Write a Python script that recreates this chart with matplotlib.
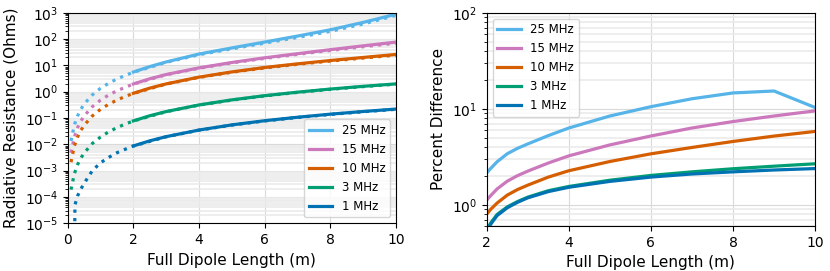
import matplotlib
matplotlib.use('Agg')
import matplotlib.pyplot as plt
from matplotlib.ticker import LogLocator, NullFormatter

# colours (seaborn colorblind)
colors = {'25 MHz': '#56b4e9', '15 MHz': '#cc78bc', '10 MHz': '#d55e00',
          '3 MHz': '#029e73', '1 MHz': '#0173b2'}
labels = ['25 MHz', '15 MHz', '10 MHz', '3 MHz', '1 MHz']

# simulated resistance, 2..10 m
x_sim = [2, 2.5, 3, 4, 5, 6, 7, 8, 9, 10]
r_sim = {
    '25 MHz': [5.6, 9.0, 13.5, 27, 46, 77, 130, 225, 430, 880],
    '15 MHz': [1.97, 3.1, 4.5, 8.05, 12.9, 19.4, 27.8, 39.5, 55.3, 76.6],
    '10 MHz': [0.87, 1.37, 1.98, 3.58, 5.65, 8.3, 11.45, 15.3, 20.0, 26.0],
    '3 MHz': [0.078, 0.122, 0.176, 0.314, 0.49, 0.705, 0.96, 1.26, 1.6, 1.98],
    '1 MHz': [0.0087, 0.0136, 0.0196, 0.035, 0.0548, 0.079, 0.107, 0.14, 0.177, 0.219],
}

# analytic resistance (dotted)
x_ana = [0.1, 0.2, 0.3, 0.4, 0.5, 0.75, 1.0, 1.25, 1.5, 1.75, 2, 3, 4, 5, 6, 7, 8, 9, 10]
x_ana_1 = [0.2, 0.22, 0.3, 0.4, 0.5, 0.75, 1.0, 1.25, 1.5, 1.75, 2, 3, 4, 5, 6, 7, 8, 9, 10]
r_ana = {
    '25 MHz': [0.0135, 0.054, 0.12, 0.215, 0.34, 0.76, 1.35, 2.1, 3.05, 4.15, 5.48,
               13.0, 25.4, 42.5, 70, 115, 196, 373, 797],
    '15 MHz': [0.0048, 0.019, 0.043, 0.077, 0.12, 0.27, 0.48, 0.75, 1.08, 1.47, 1.95,
               4.4, 7.8, 12.4, 18.4, 26.2, 36.8, 51, 70],
    '10 MHz': [0.0021, 0.0085, 0.019, 0.034, 0.053, 0.12, 0.215, 0.335, 0.48, 0.66, 0.86,
               1.95, 3.5, 5.5, 8.0, 11.0, 14.6, 19.0, 24.5],
    '3 MHz': [0.00019, 0.00075, 0.0017, 0.003, 0.0047, 0.0108, 0.019, 0.03, 0.043, 0.059,
              0.077, 0.174, 0.31, 0.48, 0.69, 0.94, 1.23, 1.56, 1.93],
    '1 MHz': [1e-7, 5e-5, 1.1e-4, 2e-4, 3.3e-4, 1e-3, 2e-3, 3.2e-3, 4.8e-3, 6.5e-3,
              8.6e-3, 0.0194, 0.0345, 0.054, 0.0775, 0.105, 0.137, 0.173, 0.214],
}

# percent difference
x_pd = [2, 2.1, 2.25, 2.5, 2.75, 3, 3.5, 4, 5, 6, 7, 8, 9, 10]
pct = {
    '25 MHz': [2.15, 2.4, 2.8, 3.4, 3.87, 4.3, 5.25, 6.3, 8.4, 10.5, 12.7, 14.6, 15.3, 10.3],
    '15 MHz': [1.12, 1.25, 1.46, 1.76, 2.01, 2.24, 2.72, 3.23, 4.2, 5.2, 6.3, 7.35, 8.4, 9.5],
    '10 MHz': [0.80, 0.90, 1.04, 1.26, 1.44, 1.6, 1.94, 2.26, 2.82, 3.39, 3.95, 4.56, 5.19, 5.8],
    '3 MHz': [0.55, 0.65, 0.79, 0.95, 1.08, 1.2, 1.4, 1.55, 1.8, 2.02, 2.2, 2.37, 2.52, 2.67],
    '1 MHz': [0.53, 0.63, 0.77, 0.93, 1.06, 1.18, 1.37, 1.52, 1.75, 1.94, 2.09, 2.2, 2.3, 2.38],
}

fig = plt.figure(figsize=(8.3, 2.71), dpi=100)
ax1 = fig.add_axes([0.0816, 0.176, 0.3955, 0.777])
ax2 = fig.add_axes([0.5865, 0.166, 0.3955, 0.787])

for lab in labels:
    c = colors[lab]
    xa = x_ana_1 if lab == '1 MHz' else x_ana
    ax1.plot(xa, r_ana[lab], color=c, lw=2.3, ls=':')
    ax1.plot(x_sim, r_sim[lab], color=c, lw=2.3, label=lab)
    ax2.plot(x_pd, pct[lab], color=c, lw=2.3, label=lab)

ax1.set_yscale('log')
ax1.set_xlim(0, 10)
ax1.set_ylim(1e-5, 1e3)
ax1.set_yticks([10.0 ** k for k in range(-5, 4)])
ax1.yaxis.set_minor_locator(LogLocator(base=10, subs=range(2, 10), numticks=20))
ax1.yaxis.set_minor_formatter(NullFormatter())
ax1.set_xlabel('Full Dipole Length (m)', fontsize=11)
ax1.set_ylabel('Radiative Resistance (Ohms)', fontsize=11)
ax1.legend(loc='lower right', fontsize=8.5)

ax2.set_yscale('log')
ax2.set_xlim(2, 10)
ax2.set_ylim(0.6, 100)
ax2.set_xticks([2, 4, 6, 8, 10])
ax2.yaxis.set_minor_formatter(NullFormatter())
ax2.set_xlabel('Full Dipole Length (m)', fontsize=11)
ax2.set_ylabel('Percent Difference', fontsize=11)
ax2.legend(loc='upper left', fontsize=8.5)

for ax in (ax1, ax2):
    ax.grid(which='major', color='0.85', lw=0.8)
    ax.grid(which='minor', axis='y', color='0.92', lw=1.2)
    ax.tick_params(labelsize=10)
    ax.set_axisbelow(True)

fig.savefig('out.png', dpi=100)
